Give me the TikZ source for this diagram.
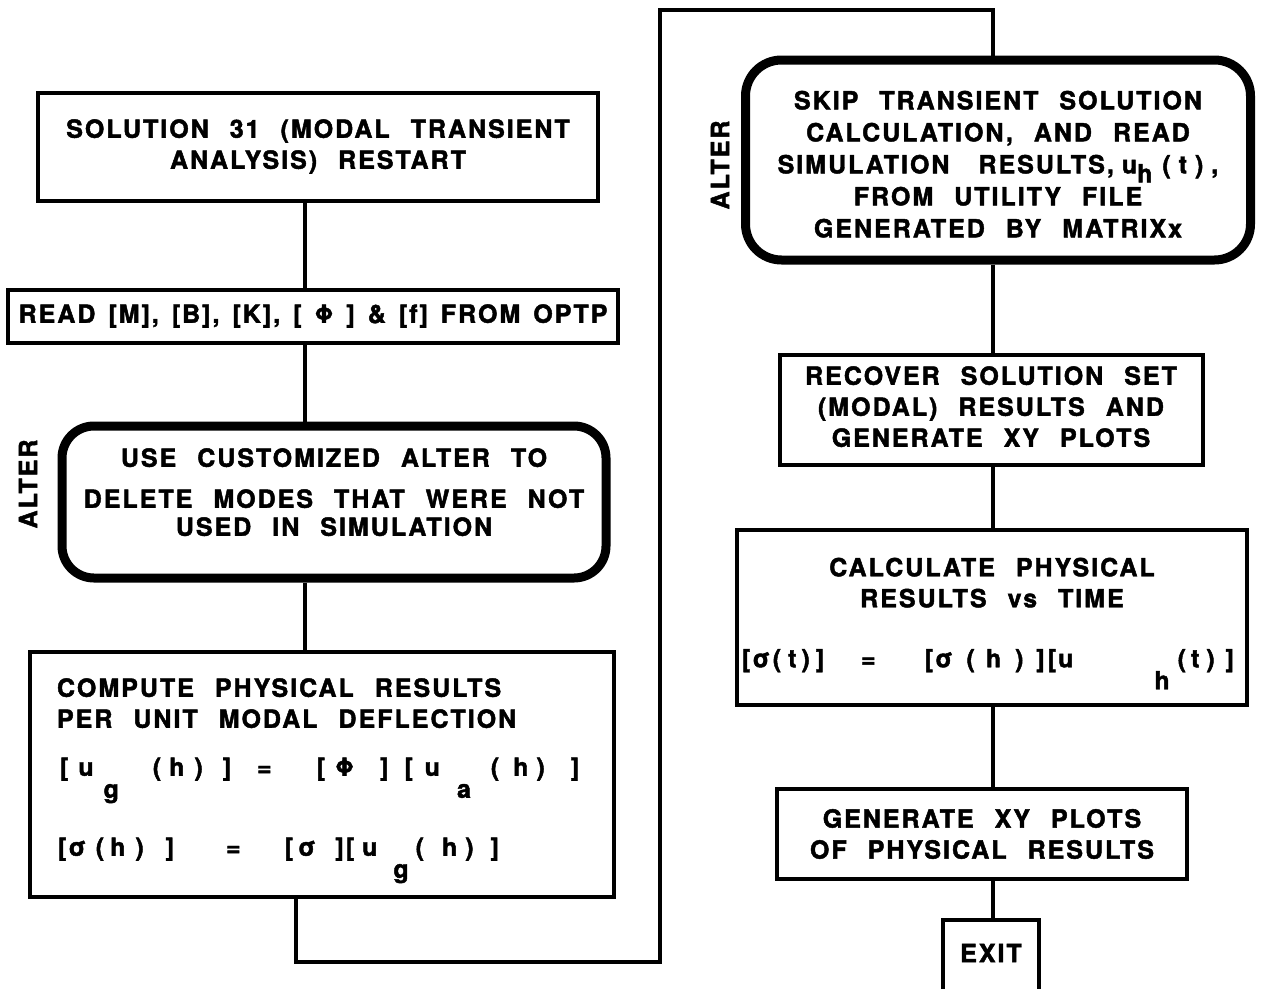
\documentclass[tikz,border=0pt]{standalone}
\usepackage{fontspec}
\setmainfont{TeX Gyre Heros}[LetterSpace=8, BoldFeatures={FakeBold=1.8}]
\usetikzlibrary{positioning}

% box text: bold, letter spaced, wide word gaps
\newcommand\boxfont{\fontsize{25}{31}\selectfont\bfseries\spaceskip=21pt\relax}
\newcommand\skipfont{\fontsize{25}{32}\selectfont\bfseries\spaceskip=21pt\relax}
% index set low under its letter
\newcommand\sub[1]{\smash{\raisebox{-22pt}{#1}}}
\newcommand\gap[1]{\hspace{#1pt}}

\begin{document}
\begin{tikzpicture}[
x=1pt, y=-1pt,
plainbox/.style={
draw,
line width=4pt,
inner sep=0pt,
align=center,
font=\boxfont
},
altbox/.style={
plainbox,
line width=9pt,
rounded corners=32pt
},
link/.style={line width=4pt},
sidenote/.style={font=\boxfont, rotate=90}
]

\useasboundingbox (0,0) rectangle (1263,988);

% left column
\node[plainbox, minimum width=560pt, minimum height=108pt] (restart) at (318,147)
{SOLUTION 31 (MODAL TRANSIENT\\ANALYSIS) RESTART\rule[-6pt]{0pt}{6pt}};

\node[plainbox, minimum width=610pt, minimum height=53pt] (read) at (313,316)
{\spaceskip=13pt READ [M], [B], [K], [ Φ ] \& [f] FROM OPTP};

\node[altbox, minimum width=544pt, minimum height=152pt] (delete) at (334,502)
{USE CUSTOMIZED ALTER TO\\[10pt]DELETE MODES THAT WERE NOT\\[-3pt]USED IN SIMULATION\rule[-20pt]{0pt}{20pt}};

\node[plainbox, minimum width=584pt, minimum height=245pt,
align=left, text width=530pt] (compute) at (322,774.5)
{\spaceskip=21pt COMPUTE PHYSICAL RESULTS\\
PER UNIT MODAL DEFLECTION\\[17pt]
\gap{3}[\gap{10}u\gap{10}\sub{g}\gap{34}(\gap{8}h\gap{10})\gap{20}]\gap{26}=\gap{45}[\gap{10}Φ\gap{26}]\gap{16}[\gap{12}u\gap{17}\sub{a}\gap{20}(\gap{14}h\gap{8})\gap{26}]\\[49pt]
\gap{1}[σ\gap{10}(\gap{6}h\gap{10})\gap{22}]\gap{52}=\gap{44}[\gap{5}σ\gap{20}]\gap{2}[\gap{8}u\gap{16}\sub{g}\gap{7}(\gap{18}h\gap{8})\gap{17}]\rule[-15pt]{0pt}{15pt}};

\node[sidenote] (alterl) at (28,484) {ALTER};

% right column
\node[altbox, rounded corners=36pt, minimum width=505pt, minimum height=200pt,
font=\skipfont] (skip) at (998,160)
{\rule{0pt}{27pt}SKIP TRANSIENT SOLUTION\\
CALCULATION, AND READ\\
SIMULATION\gap{8} RESULTS,\gap{8}u\raisebox{-9pt}{h}\gap{10}(\gap{8}t\gap{8})\gap{8},\\
FROM UTILITY FILE\\
GENERATED BY MATRIXx};

\node[sidenote] (alterr) at (720,165) {ALTER};

\node[plainbox, minimum width=423pt, minimum height=110pt] (recover) at (991,410)
{RECOVER SOLUTION SET\\(MODAL) RESULTS AND\\GENERATE XY PLOTS\rule[-7pt]{0pt}{7pt}};

\node[plainbox, minimum width=510pt, minimum height=175pt] (calc) at (992,617)
{CALCULATE PHYSICAL\\
RESULTS vs TIME\\[29pt]
\hspace*{-8pt}[σ\gap{3}(\gap{7}t\gap{5})\gap{6}]\gap{37}=\gap{49}[σ\gap{14}(\gap{11}h\gap{14})\gap{13}]\gap{3}[\gap{2}u\gap{81}\sub{h}\gap{8}(\gap{5}t\gap{7})\gap{11}]\rule[-9pt]{0pt}{9pt}};

\node[plainbox, minimum width=410pt, minimum height=90pt] (plots) at (982,834)
{GENERATE XY PLOTS\\OF PHYSICAL RESULTS};

\node[plainbox, minimum width=96pt, minimum height=76pt] (exit) at (991,958)
{EXIT\rule[-10pt]{0pt}{10pt}};

% connectors
\coordinate (lspine) at (305,0);
\coordinate (rspine) at (993,0);
\coordinate (loopa) at (296,962);
\coordinate (loopb) at (660,10);

\draw[link] (restart.south -| lspine) -- (read.north -| lspine);
\draw[link] (read.south -| lspine) -- (delete.north -| lspine);
\draw[link] (delete.south -| lspine) -- (compute.north -| lspine);
\draw[link] (compute.south -| loopa) -- (loopa) -- (loopa -| loopb) -- (loopb)
-- (loopb -| rspine) -- (skip.north -| rspine);
\draw[link] (skip.south -| rspine) -- (recover.north -| rspine);
\draw[link] (recover.south -| rspine) -- (calc.north -| rspine);
\draw[link] (calc.south -| rspine) -- (plots.north -| rspine);
\draw[link] (plots.south -| rspine) -- (exit.north -| rspine);

\end{tikzpicture}
\end{document}
